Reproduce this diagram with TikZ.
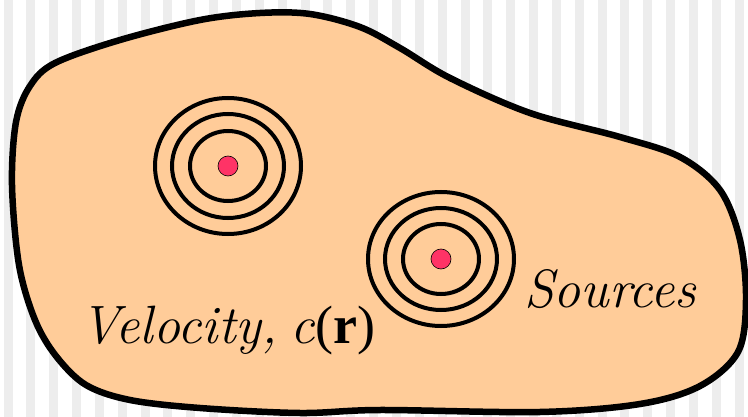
\documentclass[tikz,border=0pt]{standalone}
\usepackage{fontspec}
\newfontfamily\timesfont{Liberation Serif}
\begin{document}
\begin{tikzpicture}[x=1pt,y=-1pt,
  stripe/.style={fill=black!7},
  blob/.style={draw=black,line width=6.5pt,fill=blobfill,line join=round},
  ring/.style={draw=black,line width=4pt},
  src/.style={draw=black,line width=0.6pt,fill=srcred},
  lbl/.style={inner sep=0pt,font=\fontsize{54}{60}\selectfont}]
\definecolor{blobfill}{RGB}{255,204,153}
\definecolor{srcred}{RGB}{255,51,102}
\useasboundingbox (0,0) rectangle (748,417);
\fill[white] (0,0) rectangle (748,417);
\foreach \k in {0,...,32} {
  \fill[stripe] ({8+22.85*\k-4.5},0) rectangle ({8+22.85*\k+4.5},417);
}
\draw[blob] plot[smooth cycle, tension=0.55] coordinates {
  (12,185) (16,122) (30,86) (55,63) (120,40) (200,20) (260,13) (310,14)
  (360,27) (400,48) (450,78) (530,113) (620,137) (680,157) (720,190)
  (740,240) (746,300) (738,352) (700,386) (640,404) (540,412) (380,410)
  (300,413) (200,408) (130,400) (86,385) (56,356) (35,320) (19,265)};
% source 1
\draw[ring] (228,166) ellipse [x radius=38pt, y radius=35pt];
\draw[ring] (228,166) ellipse [x radius=56pt, y radius=52pt];
\draw[ring] (228,166) ellipse [x radius=73pt, y radius=68pt];
\node[src,circle,minimum size=20pt,inner sep=0pt] (s1) at (228,166) {};
% source 2
\draw[ring] (441,259) ellipse [x radius=38pt, y radius=35pt];
\draw[ring] (441,259) ellipse [x radius=56pt, y radius=51pt];
\draw[ring] (441,259) ellipse [x radius=73pt, y radius=67pt];
\node[src,circle,minimum size=20pt,inner sep=0pt] (s2) at (441,259) {};
% labels
\node[lbl,anchor=base west] (vel) at (80,343) {\textit{Velocity,\kern-0.1em\ c}{\timesfont(\textbf{r})}};
\node[lbl,anchor=base west] (srcs) at (524,307) {\textit{Sources}};
\end{tikzpicture}
\end{document}
